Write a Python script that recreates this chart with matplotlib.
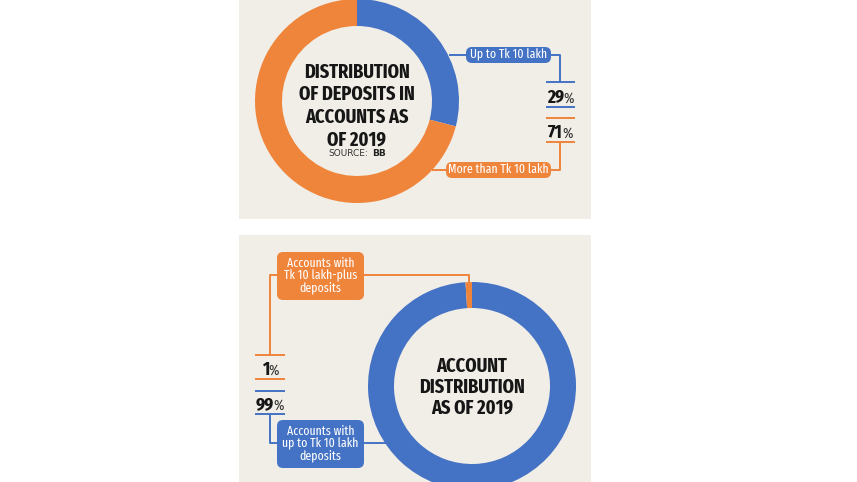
import matplotlib
matplotlib.use('Agg')
import matplotlib.pyplot as plt
from matplotlib.patches import Rectangle, FancyBboxPatch
from matplotlib import font_manager as fm

W, H = 857, 482

# ---- data ----
deposit_labels = ["Up to Tk 10 lakh", "More than Tk 10 lakh"]
deposit_share = [29, 71]
account_labels = ["Accounts with\nup to Tk 10 lakh\ndeposits",
                  "Accounts with\nTk 10 lakh-plus\ndeposits"]
account_share = [99, 1]
top_title = ["DISTRIBUTION", "OF DEPOSITS IN", "ACCOUNTS AS", "OF 2019"]
bottom_title = ["ACCOUNT", "DISTRIBUTION", "AS OF 2019"]
source_label = "SOURCE:"
source_name = "BB"

BLUE = '#4472c4'
ORANGE = '#ef843b'
BG = '#f1eee7'
DARK = '#161616'

names = {f.name for f in fm.fontManager.ttflist}


def pick(cands):
    for c in cands:
        if c in names:
            return c
    return 'DejaVu Sans'


XCOND = pick(['Fira Sans Extra Condensed', 'Roboto Condensed', 'Fira Sans Condensed',
              'PT Sans Narrow', 'Asap Condensed', 'Archivo Narrow'])


def Y(y):
    return H - y


fig = plt.figure(figsize=(W / 100, H / 100), dpi=100)
fig.patch.set_facecolor('white')
ax = fig.add_axes([0, 0, 1, 1])
ax.set_xlim(0, W)
ax.set_ylim(0, H)
renderer = fig.canvas.get_renderer()


def text_w(s, fs, family, weight='normal'):
    t = fig.text(0, 0, s, fontsize=fs, family=family, fontweight=weight)
    w = t.get_window_extent(renderer).width
    t.remove()
    return w


def fit_size(s, family, weight, target_w, base=10):
    return base * target_w / text_w(s, base, family, weight)


# panels
ax.add_patch(Rectangle((239, Y(219)), 352, 219, facecolor=BG, edgecolor='none', zorder=0))
ax.add_patch(Rectangle((239, Y(482)), 352, 482 - 235, facecolor=BG, edgecolor='none', zorder=0))

# donuts
ax.pie(deposit_share, colors=[BLUE, ORANGE], startangle=90, counterclock=False,
       center=(357, Y(101)), radius=102, frame=True,
       wedgeprops=dict(width=27, edgecolor='none', zorder=2))
ax.pie(account_share, colors=[BLUE, ORANGE], startangle=90, counterclock=False,
       center=(472, Y(386)), radius=104, frame=True,
       wedgeprops=dict(width=26, edgecolor='none', zorder=2))

LW = 1.4
LABEL_FS = fit_size("Up to Tk 10 lakh", XCOND, 'normal', 77)
TITLE_FS = fit_size("DISTRIBUTION", XCOND, 'bold', 106)
NUM_FS = fit_size("99", XCOND, 'bold', 18)
PCT_FS = NUM_FS * 0.8


def line(xs, ys, c):
    ax.plot(xs, [Y(v) for v in ys], color=c, lw=LW, solid_capstyle='butt', zorder=3)


def box(x0, y0, x1, y1, c, txt, ls=1.0):
    ax.add_patch(FancyBboxPatch((x0, Y(y1)), x1 - x0, y1 - y0,
                                boxstyle='round,pad=0,rounding_size=6',
                                facecolor=c, edgecolor='none', zorder=4))
    ax.text((x0 + x1) / 2, Y((y0 + y1) / 2) + 0.5, txt, ha='center', va='center',
            color='white', fontsize=LABEL_FS, family=XCOND,
            linespacing=ls, zorder=5)


def pct(xc, y, val):
    s = f"{val}"
    w1 = text_w(s, NUM_FS, XCOND, 'bold')
    w2 = text_w("%", PCT_FS, XCOND, 'light')
    x0 = xc - (w1 + w2) / 2
    ax.text(x0, Y(y), s, ha='left', va='baseline', fontsize=NUM_FS,
            fontweight='bold', family=XCOND, color=DARK, zorder=5)
    ax.text(x0 + w1 - 0.5, Y(y), "%", ha='left', va='baseline', fontsize=PCT_FS,
            family=XCOND, fontweight='normal', color='#333333', zorder=5)


def title(xc, lines, baselines):
    for s, yb in zip(lines, baselines):
        ax.text(xc, Y(yb), s, ha='center', va='baseline', fontsize=TITLE_FS,
                fontweight='bold', family=XCOND, color=DARK, zorder=5)


# ---- top panel ----
title(357, top_title, [78, 100.5, 123, 145])
ax.text(368, Y(156.5), source_label, ha='right', va='baseline', fontsize=6.5,
        family='DejaVu Sans', color='#333333', zorder=5)
ax.text(372, Y(156.5), source_name, ha='left', va='baseline', fontsize=6.5,
        fontweight='bold', family='DejaVu Sans', color='#222222', zorder=5)

# blue leader
line([449, 466], [55, 55], BLUE)
line([551, 560, 560], [55, 55, 82], BLUE)
line([546, 575], [82, 82], BLUE)
line([546, 575], [107, 107], BLUE)
box(466, 47, 551, 63, BLUE, deposit_labels[0])
pct(560.5, 103, deposit_share[0])

# orange leader
line([546, 575], [118, 118], ORANGE)
line([546, 575], [142, 142], ORANGE)
line([560, 560, 551], [142, 170, 170], ORANGE)
line([432, 446], [170, 170], ORANGE)
box(446, 162, 551, 178, ORANGE, deposit_labels[1])
pct(560.5, 138, deposit_share[1])

# ---- bottom panel ----
title(472, bottom_title, [372, 393, 414])

# orange leader (1%)
line([364, 469, 469], [275, 275, 283], ORANGE)
line([277, 270, 270], [275, 275, 355], ORANGE)
line([255, 285], [355, 355], ORANGE)
line([255, 285], [379, 379], ORANGE)
box(277, 252, 364, 300, ORANGE, account_labels[1], ls=0.92)
pct(270, 375, account_share[1])

# blue leader (99%)
line([255, 285], [391, 391], BLUE)
line([255, 285], [414, 414], BLUE)
line([270, 270, 277], [414, 443, 443], BLUE)
line([364, 386], [443, 443], BLUE)
box(277, 420, 364, 468, BLUE, account_labels[0], ls=0.92)
pct(270, 410, account_share[0])

ax.set_xlim(0, W)
ax.set_ylim(0, H)
ax.set_aspect('auto')
ax.axis('off')

fig.savefig('out.png', dpi=100, facecolor='white')
